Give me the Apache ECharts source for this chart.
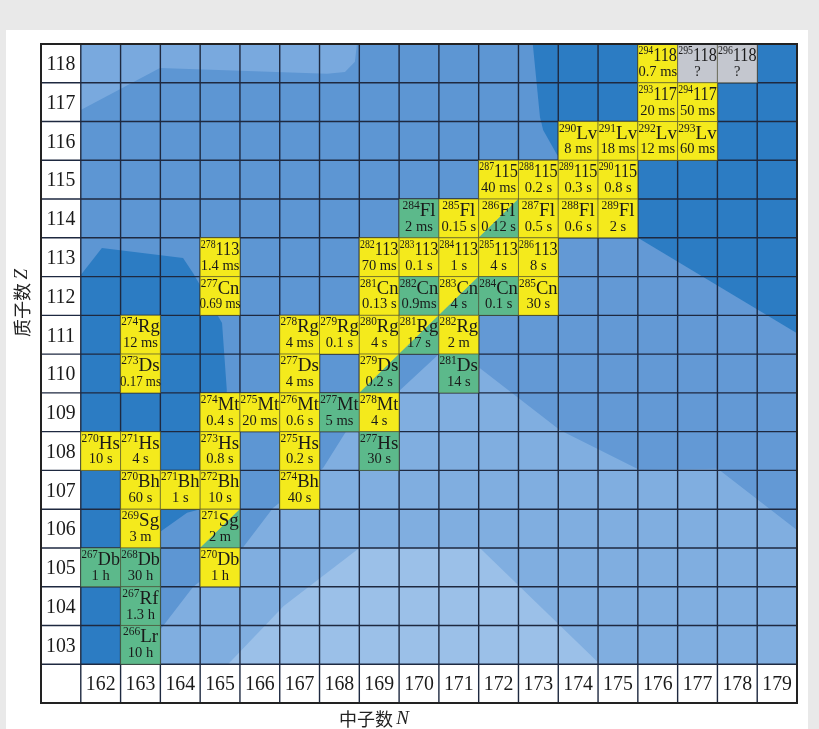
<!DOCTYPE html>
<html><head><meta charset="utf-8">
<script src="https://cdn.jsdelivr.net/npm/echarts@6/dist/echarts.min.js"></script>
<style>
html,body{margin:0;padding:0;background:#e9e9e9;overflow:hidden;}
#panel{position:absolute;left:6px;top:30px;width:802px;height:699px;background:#fff;}
#chart{position:absolute;left:0;top:0;width:819px;height:729px;}
</style></head><body>
<div id="panel"></div><div id="chart"></div>
<script>
// ---- tick labels ----
const neutronTicks = [162,163,164,165,166,167,168,169,170,171,172,173,174,175,176,177,178,179];
const protonTicks = [103,104,105,106,107,108,109,110,111,112,113,114,115,116,117,118];

// ---- nuclides ----
const cellZ = [118,118,118, 117,117, 116,116,116,116, 115,115,115,115,
  114,114,114,114,114,114, 113,113,113,113,113,113, 112,112,112,112,112,112,
  111,111,111,111,111,111, 110,110,110,110, 109,109,109,109,109,
  108,108,108,108,108, 107,107,107,107, 106,106, 105,105,105, 104, 103];
const cellN = [176,177,178, 176,177, 174,175,176,177, 172,173,174,175,
  170,171,172,173,174,175, 165,169,170,171,172,173, 165,169,170,171,172,173,
  163,167,168,169,170,171, 163,167,169,171, 165,166,167,168,169,
  162,163,165,167,169, 163,164,165,167, 163,165, 162,163,165, 163, 163];
const cellMass = [294,295,296, 293,294, 290,291,292,293, 287,288,289,290,
  284,285,286,287,288,289, 278,282,283,284,285,286, 277,281,282,283,284,285,
  274,278,279,280,281,282, 273,277,279,281, 274,275,276,277,278,
  270,271,273,275,277, 270,271,272,274, 269,271, 267,268,270, 267, 266];
const cellSymbol = ['118','118','118','117','117','Lv','Lv','Lv','Lv','115','115','115','115',
  'Fl','Fl','Fl','Fl','Fl','Fl','113','113','113','113','113','113','Cn','Cn','Cn','Cn','Cn','Cn',
  'Rg','Rg','Rg','Rg','Rg','Rg','Ds','Ds','Ds','Ds','Mt','Mt','Mt','Mt','Mt',
  'Hs','Hs','Hs','Hs','Hs','Bh','Bh','Bh','Bh','Sg','Sg','Db','Db','Db','Rf','Lr'];
const cellHalfLife = ['0.7 ms','?','?','20 ms','50 ms','8 ms','18 ms','12 ms','60 ms',
  '40 ms','0.2 s','0.3 s','0.8 s','2 ms','0.15 s','0.12 s','0.5 s','0.6 s','2 s',
  '1.4 ms','70 ms','0.1 s','1 s','4 s','8 s','0.69 ms','0.13 s','0.9ms','4 s','0.1 s','30 s',
  '12 ms','4 ms','0.1 s','4 s','17 s','2 m','0.17 ms','4 ms','0.2 s','14 s',
  '0.4 s','20 ms','0.6 s','5 ms','4 s','10 s','4 s','0.8 s','0.2 s','30 s',
  '60 s','1 s','10 s','40 s','3 m','2 m','1 h','30 h','1 h','1.3 h','10 h'];
// A = alpha, SF = fission, AS = alpha + fission (split), U = unknown
const cellDecay = ['A','U','U','A','A','A','A','A','A','A','A','A','A',
  'SF','A','AS','A','A','A','A','A','A','A','A','A','A','A','SF','AS','SF','A',
  'A','A','A','A','AS','A','A','A','AS','SF','A','A','A','SF','A',
  'A','A','A','A','SF','A','A','A','A','A','AS','SF','SF','A','SF','SF'];

// ---- background shell-correction regions, in (N, Z) ----
const regionMid = [[170.5,111.5],[172.5,113.5],[173.5,114.5],[175.5,115.5],[179.5,115.5],[179.5,105.96],[177.51,107.54],[175.55,107.51],[173.54,108.54],[171.53,110.01]];
const regionLight = [[163.3,102.5],[163.49,103.38],[164.32,104.49],[165.58,105.52],[166.33,106.53],[167.59,107.56],[168.19,108.54],[169.52,109.57],[170.53,110.53],[171.2,110.4],[173.54,108.54],[175.55,107.51],[177.51,107.54],[179.5,105.96],[179.5,102.5]];
const regionLightest = [[165.2,102.5],[166.6,104.0],[168.5,105.5],[171.53,105.5],[174.55,102.5]];
const regionDarkLeft = [[161.5,112.54],[162.03,113.24],[164.07,112.98],[164.32,112.59],[165.05,111.3],[165.17,109.57],[165.0,107.5],[164.5,106.5],[164.17,106.41],[163.49,105.91],[163.2,105.0],[162.6,102.5],[161.5,102.5]];
const regionDarkRight = [[172.86,118.5],[173.04,116.62],[173.12,116.28],[173.47,115.64],[174.5,114.5],[175.5,113.5],[179.5,111.04],[179.5,118.5]];
const regionTop = [[161.5,118.5],[168.44,118.5],[168.39,118.04],[168.14,117.78],[167.69,117.73],[163.49,117.88],[161.5,116.8]];
const regionBase = [[161.5,102.5],[179.5,102.5],[179.5,118.5],[161.5,118.5]];

const SERIF = '"Liberation Serif","DejaVu Serif",serif';
const COLORS = {base:'#5d96d3', mid:'#6399d5', light:'#80aee0', lightest:'#9bc0e8', dark:'#2c7cc3', top:'#79a9de',
  A:'#f4ea1c', SF:'#5cb98b', U:'#c4c7cf'};
const bgLayers = [
  {pts: regionBase, color: COLORS.base},
  {pts: regionMid, color: COLORS.mid},
  {pts: regionLight, color: COLORS.light},
  {pts: regionLightest, color: COLORS.lightest},
  {pts: regionDarkLeft, color: COLORS.dark},
  {pts: regionDarkRight, color: COLORS.dark},
  {pts: regionTop, color: COLORS.top}
];

const labelItems = [];
protonTicks.forEach(z => labelItems.push({n:161, z:z, t:String(z)}));
neutronTicks.forEach(n => labelItems.push({n:n, z:102, t:String(n)}));
labelItems.push({n:161, z:102, t:''});

const SUP_SIZE = 11.5, SYM_SIZE = 19, HL_SIZE = 14.5, LABEL_SIZE = 22;
const mctx = document.createElement('canvas').getContext('2d');
function textW(str, size) { mctx.font = size + 'px ' + SERIF; return mctx.measureText(str).width; }

const chart = echarts.init(document.getElementById('chart'), null, {renderer:'canvas'});

function cellBox(api, n, z) {
  const tl = api.coord([n - 0.5, z + 0.5]);
  const br = api.coord([n + 0.5, z - 0.5]);
  return {x: tl[0], y: tl[1], w: br[0] - tl[0], h: br[1] - tl[1]};
}

const option = {
  animation: false,
  grid: {left: 41, top: 44, width: 756, height: 659},
  xAxis: {type: 'value', min: 160.5, max: 179.5, show: false},
  yAxis: {type: 'value', min: 101.5, max: 118.5, show: false},
  series: [
    {
      type: 'custom', z: 1, clip: false, silent: true,
      data: bgLayers.map((l, i) => [170, 110, i]),
      renderItem: function (params, api) {
        const l = bgLayers[params.dataIndex];
        return {type: 'polygon', shape: {points: l.pts.map(p => api.coord(p))}, style: {fill: l.color}};
      }
    },
    {
      type: 'custom', z: 1, clip: false, silent: true,
      data: labelItems.map(d => [d.n, d.z]),
      renderItem: function (params, api) {
        const d = labelItems[params.dataIndex];
        const b = cellBox(api, d.n, d.z);
        const cx = b.x + b.w / 2, cy = b.y + b.h / 2 + 1;
        return {type: 'group', children: [
          {type: 'rect', shape: {x: b.x, y: b.y, width: b.w, height: b.h}, style: {fill: '#ffffff'}},
          {type: 'text', x: cx, y: cy, scaleX: 0.9, style: {text: d.t, x: 0, y: 0, align: 'center', verticalAlign: 'middle',
            font: LABEL_SIZE + 'px ' + SERIF, fill: '#1a1a1a'}}
        ]};
      }
    },
    {
      // grid lines
      type: 'custom', z: 2, clip: false, silent: true,
      data: [[170, 110]],
      renderItem: function (params, api) {
        const ch = [];
        for (let n = 160.5; n <= 179.5001; n += 1) {
          const a = api.coord([n, 101.5]), b = api.coord([n, 118.5]);
          ch.push({type: 'line', shape: {x1: a[0], y1: a[1], x2: b[0], y2: b[1]}, style: {stroke: '#1e2940', lineWidth: 1.4}});
        }
        for (let z = 101.5; z <= 118.5001; z += 1) {
          const a = api.coord([160.5, z]), b = api.coord([179.5, z]);
          ch.push({type: 'line', shape: {x1: a[0], y1: a[1], x2: b[0], y2: b[1]}, style: {stroke: '#1e2940', lineWidth: 1.4}});
        }
        return {type: 'group', children: ch};
      }
    },
    {
      type: 'custom', z: 3, clip: false, silent: true,
      data: cellN.map((n, i) => [n, cellZ[i]]),
      renderItem: function (params, api) {
        const i = params.dataIndex;
        const b = cellBox(api, cellN[i], cellZ[i]);
        const ch = [];
        const dec = cellDecay[i];
        if (dec === 'AS') {
          ch.push({type: 'polygon', shape: {points: [[b.x, b.y], [b.x + b.w, b.y], [b.x, b.y + b.h]]}, style: {fill: COLORS.A}});
          ch.push({type: 'polygon', shape: {points: [[b.x + b.w, b.y], [b.x + b.w, b.y + b.h], [b.x, b.y + b.h]]}, style: {fill: COLORS.SF}});
          ch.push({type: 'rect', shape: {x: b.x, y: b.y, width: b.w, height: b.h}, style: {fill: 'none', stroke: 'rgba(80,80,50,0.55)', lineWidth: 1}});
        } else {
          ch.push({type: 'rect', shape: {x: b.x, y: b.y, width: b.w, height: b.h}, style: {fill: COLORS[dec], stroke: 'rgba(80,80,50,0.55)', lineWidth: 1}});
        }
        const cx = b.x + b.w / 2;
        const w1 = textW(String(cellMass[i]), SUP_SIZE) + textW(cellSymbol[i], SYM_SIZE);
        const s1 = Math.min(1, 38.5 / w1);
        const w2 = textW(cellHalfLife[i], HL_SIZE);
        const s2 = Math.min(1, 41 / w2);
        ch.push({type: 'text', x: cx, y: b.y + 12, scaleX: s1, style: {
          text: '{s|' + cellMass[i] + '}{e|' + cellSymbol[i] + '}',
          x: 0, y: 0, align: 'center', verticalAlign: 'middle',
          rich: {
            s: {fontSize: SUP_SIZE, fontFamily: SERIF, fill: '#1a1a1a', lineHeight: 11, verticalAlign: 'top'},
            e: {fontSize: SYM_SIZE, fontFamily: SERIF, fill: '#1a1a1a', lineHeight: 22}
          }
        }});
        ch.push({type: 'text', x: cx, y: b.y + 28, scaleX: s2, style: {text: cellHalfLife[i], x: 0, y: 0, align: 'center', verticalAlign: 'middle',
          font: HL_SIZE + 'px ' + SERIF, fill: '#1a1a1a'}});
        return {type: 'group', children: ch};
      }
    },
    {
      // outer frame
      type: 'custom', z: 4, clip: false, silent: true,
      data: [[170, 110]],
      renderItem: function (params, api) {
        const a = api.coord([160.5, 118.5]), b = api.coord([179.5, 101.5]);
        return {type: 'rect', shape: {x: a[0], y: a[1], width: b[0] - a[0], height: b[1] - a[1]}, style: {fill: 'none', stroke: '#222', lineWidth: 2}};
      }
    }
  ],
  graphic: [
    {type: 'text', x: 374, y: 719, style: {text: '{a|中子数} {b|N}', align: 'center', verticalAlign: 'middle',
      rich: {a: {fontSize: 18, fontFamily: '"Noto Sans CJK SC"', fill: '#222'}, b: {fontSize: 19, fontFamily: SERIF, fontStyle: 'italic', fill: '#222'}}}},
    {type: 'text', x: 22, y: 303, rotation: Math.PI / 2, style: {text: '{a|质子数} {b|Z}', align: 'center', verticalAlign: 'middle',
      rich: {a: {fontSize: 18, fontFamily: '"Noto Sans CJK SC"', fill: '#222'}, b: {fontSize: 19, fontFamily: SERIF, fontStyle: 'italic', fill: '#222'}}}}
  ]
};
chart.setOption(option);
</script>
</body></html>
